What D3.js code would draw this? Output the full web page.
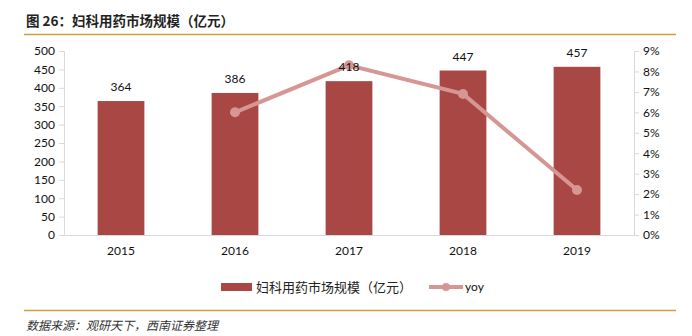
<!DOCTYPE html>
<html><head><meta charset="utf-8">
<script src="https://cdn.jsdelivr.net/npm/d3@7"></script>
<style>
body{margin:0;background:#fff;}
svg{display:block;}
</style></head>
<body><svg id="c" width="692" height="336"></svg>
<script>
const categories = ["2015","2016","2017","2018","2019"];
const marketSize = [364, 386, 418, 447, 457];
const yoy = [null, 6.0, 8.3, 6.9, 2.2];
const leftTicks = [0,50,100,150,200,250,300,350,400,450,500];
const rightTicks = [0,1,2,3,4,5,6,7,8,9];
const titleText = "图 26：妇科用药市场规模（亿元）";
const barLegend = "妇科用药市场规模（亿元）";
const lineLegend = "yoy";
const sourceText = "数据来源：观研天下，西南证券整理";

const svg = d3.select("#c");
const L = 64, R = 634, T = 51, B = 235;
const barColor = "#a94744", lineColor = "#d69694", axisColor = "#d9d9d9", ruleColor = "#d89a3c";
const latin = "Lato, 'Liberation Sans', sans-serif";
const cjk = "'Noto Sans CJK SC', sans-serif";

// title
svg.append("text").attr("x", 26).attr("y", 26)
  .attr("font-family", cjk).attr("font-weight", "bold").attr("font-size", 13.5)
  .attr("fill", "#222").attr("xml:space", "preserve").text(titleText);
svg.append("line").attr("x1", 24).attr("x2", 676).attr("y1", 34.5).attr("y2", 34.5)
  .attr("stroke", ruleColor).attr("stroke-width", 1.3);
svg.append("line").attr("x1", 24).attr("x2", 676).attr("y1", 310.5).attr("y2", 310.5)
  .attr("stroke", ruleColor).attr("stroke-width", 1.3);
svg.append("text").attr("x", 26).attr("y", 330)
  .attr("font-family", cjk).attr("font-style", "italic").attr("font-size", 12)
  .attr("fill", "#333").text(sourceText);

const x = d3.scaleBand().domain(categories).range([L, R]).paddingInner(0.59).paddingOuter(0.295);
const yL = d3.scaleLinear().domain([0, 500]).range([B, T]);
const yR = d3.scaleLinear().domain([0, 9]).range([B, T]);

// left axis
const gL = svg.append("g").attr("transform", `translate(${L},0)`)
  .call(d3.axisLeft(yL).tickValues(leftTicks).tickSize(5).tickPadding(4));
gL.select(".domain").attr("stroke", axisColor);
gL.selectAll(".tick line").attr("stroke", axisColor);
gL.selectAll("text").attr("font-family", latin).attr("font-size", 12).attr("fill", "#111");

// right axis
const gR = svg.append("g").attr("transform", `translate(${R},0)`)
  .call(d3.axisRight(yR).tickValues(rightTicks).tickFormat(d => d + "%").tickSize(5).tickPadding(4));
gR.select(".domain").attr("stroke", axisColor);
gR.selectAll(".tick line").attr("stroke", axisColor);
gR.selectAll("text").attr("font-family", latin).attr("font-size", 12).attr("fill", "#111");

// bars
svg.append("g").selectAll("rect").data(marketSize).join("rect")
  .attr("x", (d, i) => x(categories[i])).attr("width", x.bandwidth())
  .attr("y", d => yL(d)).attr("height", d => B - yL(d))
  .attr("fill", barColor);

// x axis
const gX = svg.append("g").attr("transform", `translate(0,${B})`)
  .call(d3.axisBottom(x).tickSize(0).tickPadding(11));
gX.select(".domain").attr("stroke", axisColor).attr("d", `M${L},0.5H${R}`);
gX.selectAll("text").attr("font-family", latin).attr("font-size", 12).attr("fill", "#111");

// line
const pts = categories.map((c, i) => ({c, v: yoy[i]})).filter(d => d.v != null);
const line = d3.line().x(d => x(d.c) + x.bandwidth() / 2).y(d => yR(d.v));
svg.append("path").datum(pts).attr("d", line).attr("fill", "none")
  .attr("stroke", lineColor).attr("stroke-width", 4);
svg.append("g").selectAll("circle").data(pts).join("circle")
  .attr("cx", d => x(d.c) + x.bandwidth() / 2).attr("cy", d => yR(d.v)).attr("r", 5)
  .attr("fill", lineColor);

// bar labels (drawn above the line)
svg.append("g").selectAll("text").data(marketSize).join("text")
  .attr("x", (d, i) => x(categories[i]) + x.bandwidth() / 2)
  .attr("y", d => yL(d) - 10)
  .attr("text-anchor", "middle").attr("font-family", latin).attr("font-size", 12).attr("fill", "#111")
  .text(d => d);

// legend
const lg = svg.append("g");
lg.append("rect").attr("x", 221).attr("y", 283).attr("width", 31).attr("height", 8).attr("fill", barColor);
lg.append("text").attr("x", 256).attr("y", 292).attr("font-family", cjk).attr("font-size", 13)
  .attr("fill", "#222").text(barLegend);
lg.append("line").attr("x1", 429).attr("x2", 463).attr("y1", 287).attr("y2", 287)
  .attr("stroke", lineColor).attr("stroke-width", 4);
lg.append("circle").attr("cx", 446).attr("cy", 287).attr("r", 4).attr("fill", lineColor);
lg.append("text").attr("x", 465).attr("y", 291).attr("font-family", latin).attr("font-size", 12)
  .attr("fill", "#111").text(lineLegend);
</script></body></html>
